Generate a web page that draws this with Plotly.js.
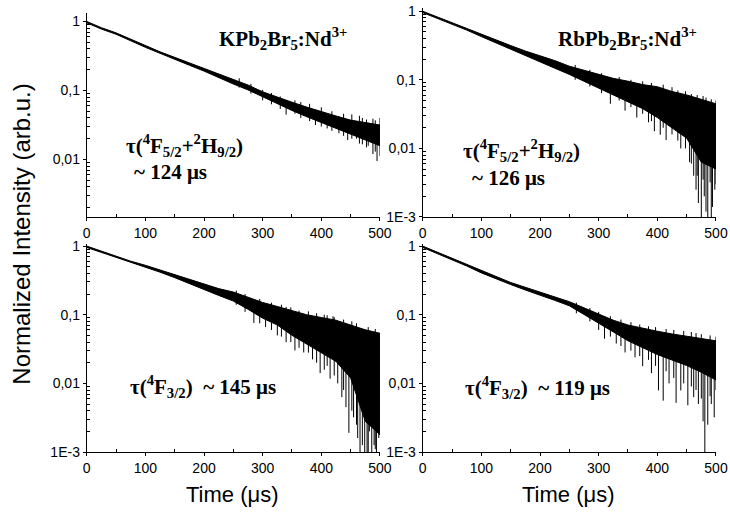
<!DOCTYPE html>
<html>
<head>
<meta charset="utf-8">
<script src="https://cdn.plot.ly/plotly-3.0.1.min.js"></script>
<style>html,body{margin:0;padding:0;background:#fff}#chart{width:730px;height:517px}</style>
</head>
<body>
<div id="chart"></div>
<script>
// ---- data ----
const time = [0,25,50,75,100,125,150,175,200,225,250,275,300,325,350,375,400,425,450,475,500];

// top-left: KPb2Br5:Nd3+, tau(4F5/2+2H9/2) ~124 us
const kUpper = [1.0,0.813,0.684,0.550,0.442,0.363,0.302,0.251,0.207,0.172,0.143,0.120,0.0955,0.0794,0.0676,0.0575,0.0490,0.0427,0.0372,0.0339,0.0316];
const kLower = [0.955,0.776,0.653,0.525,0.422,0.343,0.282,0.232,0.191,0.155,0.124,0.102,0.0813,0.0646,0.0513,0.0417,0.0339,0.0282,0.0234,0.0191,0.0158];
const kSpikeT   = [340,390,410,430,445,460,470,480,488,495,500,260,280,300,315,330,355,365,380,400,418,438,452,465,477,492];
const kSpikeTop = [0.070,0.050,0.045,0.042,0.038,0.036,0.040,0.034,0.039,0.032,0.040,0.150,0.125,0.102,0.092,0.082,0.072,0.068,0.064,0.057,0.050,0.046,0.045,0.043,0.038,0.037];
const kSpikeBot = [0.0447,0.0316,0.0282,0.0240,0.0191,0.0200,0.0166,0.0158,0.0120,0.0095,0.0112,0.110,0.090,0.072,0.063,0.054,0.046,0.040,0.036,0.030,0.026,0.022,0.020,0.017,0.015,0.013];

// top-right: RbPb2Br5:Nd3+, tau(4F5/2+2H9/2) ~126 us
const rUpper = [1.0,0.822,0.676,0.562,0.462,0.380,0.316,0.263,0.224,0.191,0.158,0.138,0.120,0.105,0.0955,0.0851,0.0794,0.0676,0.0603,0.0525,0.0447];
const rLower = [0.955,0.785,0.646,0.531,0.427,0.347,0.282,0.229,0.182,0.148,0.120,0.0955,0.0759,0.0603,0.0479,0.0380,0.0282,0.0200,0.0141,0.0063,0.0050];
const rSpikeT   = [320,345,365,385,395,405,415,440,455,462,466,470,475,480,486,490,494,498,260,285,305,335,355,375,390,410,425,435,448,458,468,478,483,492,500];
const rSpikeTop = [0.090,0.085,0.080,0.075,0.072,0.070,0.065,0.060,0.055,0.050,0.050,0.050,0.048,0.048,0.047,0.046,0.045,0.044,0.165,0.140,0.125,0.110,0.100,0.095,0.090,0.085,0.078,0.070,0.068,0.062,0.060,0.058,0.055,0.052,0.050];
const rSpikeBot = [0.0447,0.0355,0.0282,0.0240,0.0178,0.0158,0.0132,0.0100,0.0063,0.0040,0.0025,0.0016,0.0009,0.0020,0.0009,0.0032,0.0014,0.0025,0.100,0.080,0.064,0.050,0.040,0.032,0.025,0.020,0.016,0.013,0.010,0.006,0.004,0.0035,0.0012,0.0009,0.003];

// bottom-left: tau(4F3/2) ~145 us
const aUpper = [1.0,0.841,0.708,0.603,0.525,0.447,0.380,0.324,0.275,0.240,0.214,0.182,0.151,0.132,0.115,0.100,0.0912,0.0832,0.0708,0.0603,0.0537];
const aLower = [0.955,0.804,0.676,0.575,0.490,0.417,0.347,0.288,0.234,0.191,0.158,0.120,0.0891,0.0708,0.0501,0.0380,0.0282,0.0209,0.0120,0.0028,0.00178];
const aSpikeT   = [285,305,325,340,355,370,385,398,405,415,420,428,435,442,447,455,462,466,470,474,478,482,486,490,494,498,255,270,295,315,332,348,362,378,392,410,422,438,452,460,480,492];
const aSpikeTop = [0.140,0.130,0.120,0.130,0.100,0.095,0.090,0.085,0.100,0.080,0.095,0.075,0.070,0.068,0.066,0.065,0.062,0.060,0.060,0.058,0.057,0.056,0.055,0.055,0.054,0.053,0.225,0.200,0.170,0.150,0.140,0.128,0.115,0.112,0.105,0.098,0.092,0.085,0.080,0.075,0.066,0.062];
const aSpikeBot = [0.0759,0.066,0.0501,0.0398,0.0302,0.0282,0.0224,0.0141,0.0158,0.0117,0.030,0.0100,0.0063,0.0045,0.0019,0.0032,0.0016,0.0009,0.00126,0.0009,0.0009,0.0020,0.0009,0.00126,0.0009,0.0016,0.140,0.110,0.075,0.060,0.048,0.040,0.033,0.028,0.020,0.018,0.013,0.008,0.004,0.0025,0.0009,0.0011];

// bottom-right: tau(4F3/2) ~119 us
const bUpper = [1.0,0.813,0.661,0.537,0.437,0.355,0.295,0.251,0.214,0.182,0.155,0.126,0.102,0.0832,0.0708,0.0631,0.0575,0.0525,0.0490,0.0457,0.0417];
const bLower = [0.955,0.776,0.631,0.513,0.407,0.331,0.275,0.229,0.195,0.162,0.135,0.102,0.0759,0.0562,0.0417,0.0331,0.0263,0.0219,0.0182,0.0145,0.0112];
const bSpikeT   = [310,330,345,362,375,390,402,410,420,432,440,452,462,470,478,481,486,492,497,262,285,300,320,338,355,370,385,397,415,428,445,458,466,475,490,500];
const bSpikeTop = [0.080,0.070,0.060,0.050,0.050,0.045,0.040,0.040,0.040,0.040,0.035,0.035,0.035,0.035,0.035,0.035,0.035,0.035,0.035,0.150,0.125,0.110,0.095,0.085,0.078,0.072,0.068,0.066,0.062,0.060,0.058,0.056,0.054,0.052,0.050,0.048];
const bSpikeBot = [0.0447,0.0380,0.0282,0.0240,0.0178,0.0141,0.0079,0.0056,0.0100,0.0052,0.0079,0.0048,0.0063,0.0050,0.0028,0.0009,0.0025,0.0050,0.0032,0.105,0.080,0.060,0.048,0.035,0.030,0.025,0.022,0.018,0.015,0.012,0.010,0.009,0.008,0.006,0.0065,0.008];

const xTickVals = [0,100,200,300,400,500];
const xTickText = ['0','100','200','300','400','500'];
const yTickVals = [0.001,0.01,0.1,1];
const yTickText = ['1E-3','0,01','0,1','1'];

// ---- drawing ----
function band(up, lo, xa, ya) {
  return {
    type: 'scatter', mode: 'lines', xaxis: xa, yaxis: ya,
    x: time.concat(time.slice().reverse()),
    y: up.concat(lo.slice().reverse()),
    fill: 'toself', fillcolor: '#000',
    line: {color: '#000', width: 1}, hoverinfo: 'skip', showlegend: false
  };
}
function spikes(ts, tops, bots, xa, ya) {
  const x = [], y = [];
  ts.forEach((t, i) => { x.push(t, t, null); y.push(tops[i], bots[i], null); });
  return {type: 'scatter', mode: 'lines', xaxis: xa, yaxis: ya, x, y,
    line: {color: '#000', width: 1}, connectgaps: false, hoverinfo: 'skip', showlegend: false};
}

const data = [
  band(kUpper, kLower, 'x', 'y'),   spikes(kSpikeT, kSpikeTop, kSpikeBot, 'x', 'y'),
  band(rUpper, rLower, 'x2', 'y2'), spikes(rSpikeT, rSpikeTop, rSpikeBot, 'x2', 'y2'),
  band(aUpper, aLower, 'x3', 'y3'), spikes(aSpikeT, aSpikeTop, aSpikeBot, 'x3', 'y3'),
  band(bUpper, bLower, 'x4', 'y4'), spikes(bSpikeT, bSpikeTop, bSpikeBot, 'x4', 'y4')
];

const tickFont = {family: 'Liberation Sans, Arial, sans-serif', size: 14, color: '#000'};
const minorLog = [];
[-3,-2,-1,0].forEach(d => { for (let m = 2; m <= 9; m++) minorLog.push(m * Math.pow(10, d)); });

function xAxis(dom, anchor) {
  return {domain: dom, anchor: anchor, range: [0, 500], showline: true, linecolor: '#000', linewidth: 1,
    showgrid: false, zeroline: false, tickmode: 'array', tickvals: xTickVals, ticktext: xTickText,
    ticks: 'outside', ticklen: 3, tickcolor: '#000', tickfont: tickFont,
    minor: {tickmode: 'array', tickvals: [50,150,250,350,450], ticks: 'inside', ticklen: 3, tickcolor: '#000'}};
}
function yAxis(dom, anchor, rng, vals, txt) {
  return {domain: dom, anchor: anchor, type: 'log', range: rng, showline: true, linecolor: '#000', linewidth: 1,
    showgrid: false, zeroline: false, tickmode: 'array', tickvals: vals, ticktext: txt,
    ticks: 'outside', ticklen: 3, tickcolor: '#000', tickfont: tickFont,
    minor: {tickmode: 'array', tickvals: minorLog, ticks: 'inside', ticklen: 3, tickcolor: '#000'}};
}

const serif = {family: 'Liberation Serif, Times New Roman, serif', size: 21, color: '#000'};
const sans = {family: 'Liberation Sans, Arial, sans-serif', size: 22, color: '#000'};
const sansY = {family: 'Liberation Sans, Arial, sans-serif', size: 24, color: '#000'};
function ann(text, x, y, font, extra) {
  return Object.assign({text, x, y, xref: 'paper', yref: 'paper', xanchor: 'center', yanchor: 'middle',
    showarrow: false, font}, extra || {});
}

const layout = {
  width: 730, height: 517,
  margin: {l: 0, r: 0, t: 0, b: 0},
  paper_bgcolor: '#fff', plot_bgcolor: '#fff',
  showlegend: false,
  xaxis:  xAxis([0.1188, 0.5205], 'y'),
  xaxis2: xAxis([0.5790, 0.9808], 'y2'),
  xaxis3: xAxis([0.1188, 0.5205], 'y3'),
  xaxis4: xAxis([0.5790, 0.9808], 'y4'),
  yaxis:  yAxis([0.5803, 0.9749], 'x',  [-2.833, 0.123], [0.01, 0.1, 1], ['0,01', '0,1', '1']),
  yaxis2: yAxis([0.5803, 0.9845], 'x2', [-3, 0.047], yTickVals, yTickText),
  yaxis3: yAxis([0.1257, 0.5280], 'x3', [-3, 0.03], yTickVals, yTickText),
  yaxis4: yAxis([0.1257, 0.5280], 'x4', [-3, 0.03], yTickVals, yTickText),
  annotations: [
    ann('<b>KPb<sub>2</sub>Br<sub>5</sub>:Nd<sup>3+</sup></b>', 0.388, 0.926, serif),
    ann('<b>RbPb<sub>2</sub>Br<sub>5</sub>:Nd<sup>3+</sup></b>', 0.860, 0.926, serif),
    ann('<b>τ(<sup>4</sup>F<sub>5/2</sub>+<sup>2</sup>H<sub>9/2</sub>)</b>', 0.253, 0.719, serif),
    ann('<b>~ 124 μs</b>', 0.233, 0.667, serif),
    ann('<b>τ(<sup>4</sup>F<sub>5/2</sub>+<sup>2</sup>H<sub>9/2</sub>)</b>', 0.714, 0.709, serif),
    ann('<b>~ 126 μs</b>', 0.697, 0.655, serif),
    ann('<b>τ(<sup>4</sup>F<sub>3/2</sub>)  ~ 145 μs</b>', 0.278, 0.253, serif),
    ann('<b>τ(<sup>4</sup>F<sub>3/2</sub>)  ~ 119 μs</b>', 0.736, 0.250, serif),
    ann('Normalized Intensity (arb.u.)', 0.0301, 0.548, sansY, {textangle: -90}),
    ann('Time (μs)', 0.319, 0.0426, sans),
    ann('Time (μs)', 0.779, 0.0426, sans)
  ]
};

Plotly.newPlot('chart', data, layout, {staticPlot: true, displayModeBar: false});
</script>
</body>
</html>
